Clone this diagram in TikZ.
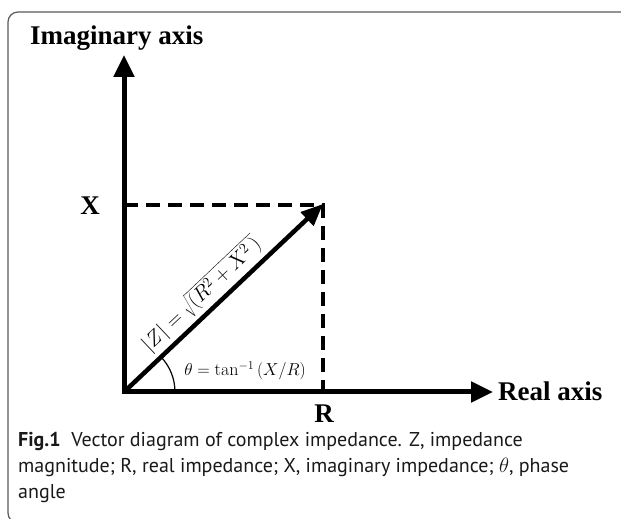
\documentclass[tikz,border=0pt]{standalone}
\usepackage{fontspec}
\usetikzlibrary{arrows.meta}
\newfontfamily\capfont{PT Sans}
\newfontfamily\labfont{Liberation Serif}
\begin{document}
\begin{tikzpicture}[x=1pt,y=1pt,
  axis/.style={line width=5pt, line join=miter},
  vec/.style={line width=4.5pt, -{Triangle[length=22pt,width=18pt]}},
  dsh/.style={line width=4pt, dash pattern=on 14pt off 8pt},
  lab/.style={font=\labfont\bfseries\fontsize{27}{27}\selectfont, inner sep=0pt},
  mathlab/.style={font=\fontsize{18}{18}\selectfont, inner sep=2pt},
  captext/.style={font=\capfont\fontsize{20}{26}\selectfont, inner sep=0pt, anchor=base west, text=black!90}]
\useasboundingbox (0,0) rectangle (621,519);
\begin{scope}
\clip (0,0) rectangle (621,519);
\draw[line width=1.2pt, color=black!65, rounded corners=10pt] (8,-4) rectangle (640,507);
\end{scope}
\coordinate (O) at (124,127);
\coordinate (Ytip) at (124,464);
\coordinate (Xtip) at (493,127);
\coordinate (P) at (323,315);
\coordinate (XP) at (124,314);
\coordinate (RP) at (323,127);
\draw[dsh] (XP) -- (323,314) -- (RP);
\draw[axis, {Triangle[length=22pt,width=20pt]}-{Triangle[length=22pt,width=20pt]}] (Ytip) -- (O) -- (Xtip);
\draw[vec] (O) -- (P) node[pos=0.45, above, sloped, font=\fontsize{21}{21}\selectfont, inner sep=3pt] (zl) {$|Z| = \sqrt{(R^2+X^2\,)}$};
\draw[line width=1.2pt] (O) ++(51,0) arc[start angle=0, end angle=43.2, radius=51pt];
\node[lab, anchor=base west] (ia) at (30,474) {Imaginary axis};
\node[lab, anchor=base west] (ra) at (498,118) {Real axis};
\node[lab] (xl) at (90,313) {X};
\node[lab] (rl) at (324,105) {R};
\node[mathlab] (th) at (245,148) {$\theta = \tan^{-1}\,(X/R)$};
\node[captext] (c1) at (18,72) {\textbf{Fig.1}\ \ Vector diagram of complex impedance. Z, impedance};
\node[captext] (c2) at (18,46) {magnitude; R, real impedance; X, imaginary impedance; $\theta$, phase};
\node[captext] (c3) at (18,20) {angle};
\end{tikzpicture}
\end{document}
